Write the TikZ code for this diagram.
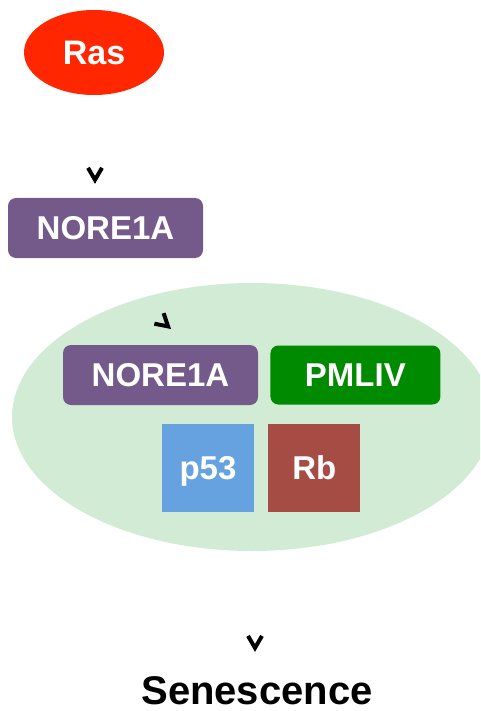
\documentclass[tikz,border=0pt]{standalone}
\usepackage{fontspec}
\setmainfont{Liberation Sans}
\usetikzlibrary{arrows.meta,shapes.geometric,positioning}
\definecolor{rasred}{HTML}{FF2600}
\definecolor{norpurple}{HTML}{735A8B}
\definecolor{nucgreen}{HTML}{D1EBD5}
\definecolor{pmlgreen}{HTML}{008A00}
\definecolor{p53blue}{HTML}{66A2DF}
\definecolor{rbred}{HTML}{A54C44}

\begin{document}
\begin{tikzpicture}[x=1pt,y=-1pt,
  lbl/.style={text=white,font=\bfseries\fontsize{33}{33}\selectfont,inner sep=0pt,text depth=0pt},
  box/.style={lbl,rounded corners=8pt,minimum height=60pt},
  sq/.style={lbl,minimum width=92pt,minimum height=88pt},
  tip/.style={-{Straight Barb[length=12pt,width=14pt,line width=4pt]},line width=0.4pt}]
\path[use as bounding box,clip] (0,0) rectangle (480,711);
\node [ellipse,fill=rasred,minimum width=140pt,minimum height=85pt,lbl,font=\bfseries\fontsize{34}{34}\selectfont] (ras) at (94,52.5) {Ras};
\node [box,fill=norpurple,minimum width=195pt] (nore1) at (105.5,228) {NORE1A};
\node [ellipse,fill=nucgreen,minimum width=480pt,minimum height=268pt] (nuc) at (252,417) {};
\node [box,fill=norpurple,minimum width=195pt] (nore2) at (160.5,375) {NORE1A};
\node [box,fill=pmlgreen,minimum width=170pt,minimum height=59pt,right=12pt of nore2] (pml) {PMLIV};
\node [sq,fill=p53blue] (p53) at (208,468) {p53};
\node [sq,fill=rbred,right=14pt of p53] (rb) {Rb};
\node [anchor=base,inner sep=0pt,font=\bfseries\fontsize{40}{40}\selectfont] (sen) at (257,704) {Senescence};
\coordinate (a2) at (171,329);
\draw[tip,shorten <=88pt,shorten >=14pt] ([xshift=1pt]ras.south) -- ([xshift=1pt]ras.south |- nore1.north);
\draw[tip] ([shift={(-0.75,-0.66)}]a2) -- (a2);
\draw[tip,shorten <=98pt,shorten >=24pt] ([xshift=3pt]nuc.south) -- ([xshift=3pt]nuc.south |- sen.north);
\end{tikzpicture}
\end{document}
